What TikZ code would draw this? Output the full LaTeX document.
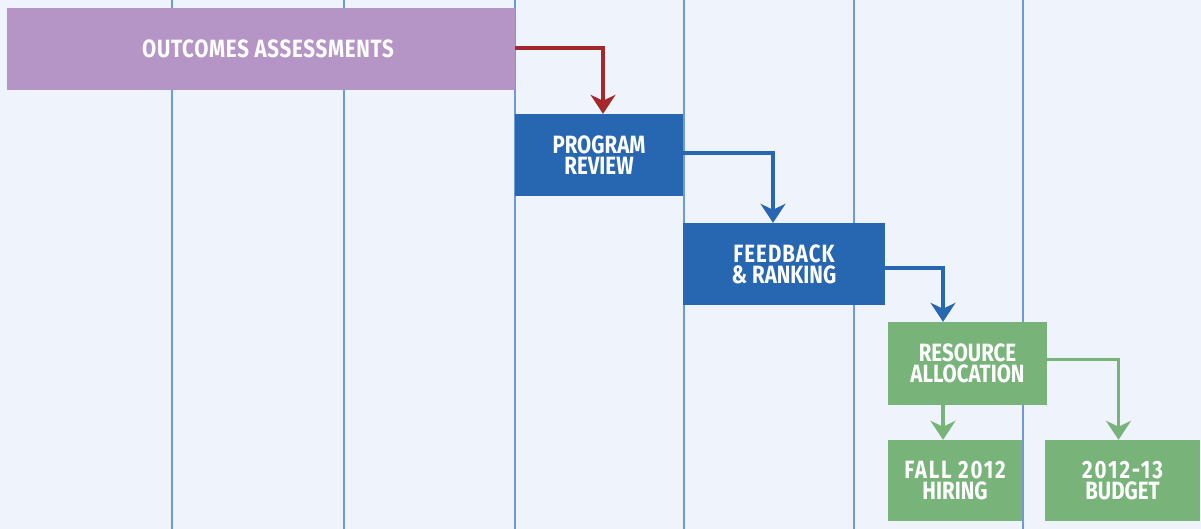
\documentclass[tikz,border=0pt]{standalone}
\usepackage{fontspec}
\setmainfont{Fira Sans}[FakeStretch=0.82]
\usetikzlibrary{arrows.meta}
\definecolor{bgcol}{HTML}{EFF3FB}
\definecolor{gridcol}{HTML}{6E9BD6}
\definecolor{purplecol}{HTML}{B595C6}
\definecolor{bluecol}{HTML}{2767B1}
\definecolor{greencol}{HTML}{78B47A}
\definecolor{redcol}{HTML}{A4282A}
\newcommand{\spaced}[1]{\addfontfeature{LetterSpace=#1}}
\tikzset{
  phase/.style={draw=none, inner sep=0pt, align=center, text=white,
    font=\bfseries\fontsize{25}{21}\selectfont},
  purplebox/.style={phase, fill=purplecol},
  bluebox/.style={phase, fill=bluecol},
  greenbox/.style={phase, fill=greencol},
  flow/.style={line width=3.5pt, -{Stealth[length=19pt, width=25pt, inset=6pt]}},
  gridline/.style={draw=gridcol, line width=2pt}
}
\begin{document}
\begin{tikzpicture}[x=1pt, y=-1pt]
  \useasboundingbox (0,0) rectangle (1201,529);
  \fill[bgcol] (0,0) rectangle (1201,529);

  % timeline columns
  \foreach \gx in {172,344,515,684,854,1023}
    \draw[gridline] (\gx,0) -- (\gx,529);

  % phases
  \node[purplebox, minimum width=508pt, minimum height=82pt] (oa) at (261,49)
    {\spaced{3}\hspace*{14pt}OUTCOMES ASSESSMENTS};
  \node[bluebox, minimum width=168pt, minimum height=82pt] (pr) at (599,155)
    {PROGRAM\\REVIEW};
  \node[bluebox, minimum width=202pt, minimum height=82pt] (fr) at (784,264)
    {\spaced{4}FEEDBACK\\\&\ RANKING};
  \node[greenbox, minimum width=159pt, minimum height=83pt] (ra) at (967.5,363.5)
    {RESOURCE\\ALLOCATION};
  \node[greenbox, minimum width=134pt, minimum height=81pt] (hi) at (955,480.5)
    {\spaced{7}FALL 2012\\HIRING};
  \node[greenbox, minimum width=155pt, minimum height=81pt] (bu) at (1122.5,480.5)
    {\spaced{8}2012-13\\BUDGET};

  % connectors
  \draw[flow, redcol] ([yshift=1pt]oa.east) -| ([xshift=4pt]pr.north);
  \draw[flow, bluecol] ([yshift=2pt]pr.east) -| ([xshift=-11pt]fr.north);
  \draw[flow, bluecol] ([yshift=-4pt]fr.east) -| ([xshift=-24.5pt]ra.north);
  \draw[flow, greencol] ([xshift=-24.5pt]ra.south) -- ([xshift=-24.5pt]ra.south |- hi.north);
  \draw[flow, greencol] ([yshift=4pt]ra.east) -| ([xshift=-4pt]bu.north);
\end{tikzpicture}
\end{document}
